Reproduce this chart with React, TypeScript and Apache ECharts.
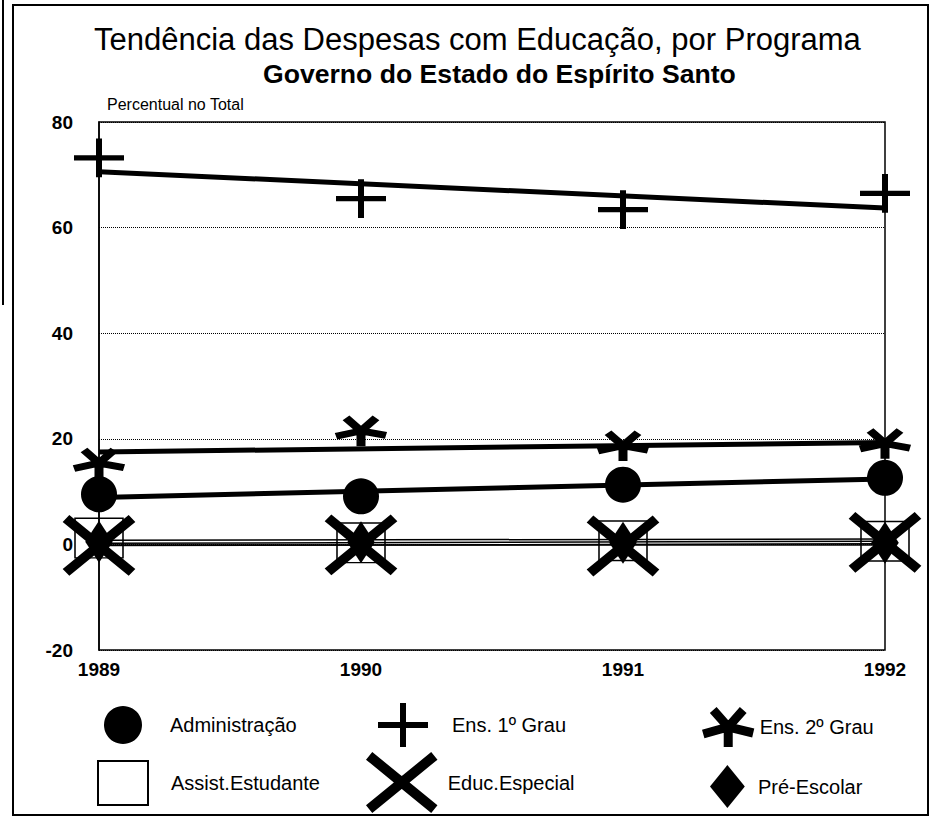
import React, { useEffect, useRef } from 'react';
import * as echarts from 'echarts';

const FONT = "'Liberation Sans', Arial, Helvetica, sans-serif";

// ---------- data ----------
const years = ['1989', '1990', '1991', '1992'];
const yMin = -20;
const yMax = 80;
const yStep = 20;

const administracao = [9.5, 9.1, 11.3, 12.6];
const ens1Grau = [73.2, 65.5, 63.4, 66.5];
const ens2Grau = [15.4, 21.5, 18.7, 19.1];
const assistEstudante = [1.2, 0.3, 0.7, 0.6];
const educEspecial = [-0.2, -0.1, -0.3, 0.4];
const preEscolar = [0.5, 0.4, 0.3, 0.3];

// trend lines: value at first and last year
const trendAdministracao = [8.9, 12.4];
const trendEns1Grau = [70.6, 63.7];
const trendEns2Grau = [17.5, 19.3];
const trendAssistEstudante = [0.8, 1.0];
const trendEducEspecial = [-0.2, 0.1];
const trendPreEscolar = [0.2, 0.6];

const names = {
  adm: 'Administração',
  e1: 'Ens. 1º Grau',
  e2: 'Ens. 2º Grau',
  ass: 'Assist.Estudante',
  edu: 'Educ.Especial',
  pre: 'Pré-Escolar',
};

// ---------- marker shapes ----------
function armShape(arms: number[][], t: number) {
  const h = t / 2;
  const polys = arms.map(([ex, ey]) => {
    const len = Math.hypot(ex, ey);
    const ux = ex / len;
    const uy = ey / len;
    const nx = -uy * h;
    const ny = ux * h;
    const sx = -ux * h;
    const sy = -uy * h;
    return [
      [sx + nx, sy + ny],
      [ex + nx, ey + ny],
      [ex - nx, ey - ny],
      [sx - nx, sy - ny],
    ];
  });
  const all = polys.flat();
  const xs = all.map((p) => p[0]);
  const ys = all.map((p) => p[1]);
  const minX = Math.min(...xs);
  const maxX = Math.max(...xs);
  const minY = Math.min(...ys);
  const maxY = Math.max(...ys);
  const f = (v: number) => v.toFixed(2);
  const d = polys
    .map((poly) => 'M' + poly.map((p) => f(p[0]) + ' ' + f(p[1])).join('L') + 'Z')
    .join('');
  return {
    symbol: 'path://' + d,
    size: [maxX - minX, maxY - minY],
    offset: [(minX + maxX) / 2, (minY + maxY) / 2],
  };
}

const PLUS = armShape([[0, -22], [0, 22], [-25, 0], [25, 0]], 6);
const ASTER = armShape([[-15, -17], [15, -17], [-25, 7], [25, 6], [0, 20]], 9);
const CROSS = armShape([[-33, -29.5], [33, -29.5], [-33, 29.5], [33, 29.5]], 10);
const CROSS_LEGEND = armShape([[-33, -27], [33, -27], [-33, 27], [33, 27]], 10);
const SQUARE = 'path://M0 0H50V44H0Z';
const DIAMOND = 'path://M17 0L34 21L17 42L0 21Z';

function pairs(vals: number[]) {
  return [
    [years[0], vals[0]],
    [years[years.length - 1], vals[1]],
  ];
}

function trend(name: string, vals: number[], width: number) {
  return {
    type: 'line',
    name: name + ' (tendência)',
    data: pairs(vals),
    symbol: 'none',
    z: 2,
    silent: true,
    lineStyle: { color: '#000', width, opacity: 1 },
    itemStyle: { color: '#000' },
  };
}

function markers(name: string, vals: number[], symbol: string, size: any, extra: any = {}) {
  return {
    type: 'scatter',
    name,
    data: vals,
    symbol,
    symbolSize: size,
    symbolKeepAspect: true,
    z: 3,
    silent: true,
    itemStyle: { color: '#000', opacity: 1 },
    ...extra,
  };
}

const legendBase = {
  orient: 'horizontal',
  padding: 0,
  itemGap: 0,
  selectedMode: false,
  symbolKeepAspect: true,
  textStyle: { fontSize: 20, color: '#000', fontFamily: FONT },
};

const option: any = {
  animation: false,
  backgroundColor: '#fff',
  title: [
    {
      text: 'Tendência das Despesas com Educação, por Programa',
      left: 94,
      top: 24,
      padding: 0,
      textStyle: { fontSize: 31, fontWeight: 'normal', color: '#000', fontFamily: FONT },
    },
    {
      text: 'Governo do Estado do Espírito Santo',
      left: 263,
      top: 60,
      padding: 0,
      textStyle: { fontSize: 26.6, fontWeight: 'bold', color: '#000', fontFamily: FONT },
    },
  ],
  grid: {
    left: 99,
    top: 122,
    width: 786,
    height: 528,
    show: true,
    borderColor: '#000',
    borderWidth: 1.5,
    backgroundColor: 'transparent',
  },
  xAxis: {
    type: 'category',
    data: years,
    boundaryGap: false,
    axisLine: { lineStyle: { color: '#000', width: 1.5 } },
    axisTick: { show: true, inside: true, length: 7, lineStyle: { color: '#000', width: 1.5 } },
    axisLabel: { fontSize: 19, fontWeight: 'bold', color: '#000', fontFamily: FONT, margin: 10 },
    splitLine: { show: false },
  },
  yAxis: {
    type: 'value',
    min: yMin,
    max: yMax,
    interval: yStep,
    name: 'Percentual no Total',
    nameLocation: 'end',
    nameGap: 10,
    nameTextStyle: { fontSize: 16, color: '#000', fontFamily: FONT, align: 'left', padding: [0, 0, 0, 8] },
    axisLine: { show: true, lineStyle: { color: '#000', width: 1.5 } },
    axisTick: { show: false },
    axisLabel: { fontSize: 19, fontWeight: 'bold', color: '#000', fontFamily: FONT, margin: 26 },
    splitLine: { show: true, lineStyle: { color: '#000', width: 1, type: 'dotted' } },
  },
  legend: [
    { ...legendBase, data: [{ name: names.adm, icon: 'circle' }], left: 104, top: 706, itemWidth: 84, itemHeight: 38 },
    { ...legendBase, data: [{ name: names.e1, icon: PLUS.symbol }], left: 378, top: 703, itemWidth: 88, itemHeight: 44 },
    { ...legendBase, data: [{ name: names.e2, icon: ASTER.symbol }], left: 702, top: 707, itemWidth: 53, itemHeight: 40 },
    { ...legendBase, data: [{ name: names.ass, icon: SQUARE }], left: 97, top: 760, itemWidth: 86, itemHeight: 44 },
    { ...legendBase, data: [{ name: names.edu, icon: CROSS_LEGEND.symbol }], left: 366, top: 752, itemWidth: 82, itemHeight: 61 },
    { ...legendBase, data: [{ name: names.pre, icon: DIAMOND }], left: 710, top: 765, itemWidth: 51, itemHeight: 43 },
  ],
  graphic: [
    {
      type: 'rect',
      silent: true,
      shape: { x: 13, y: 5, width: 915, height: 810 },
      style: { fill: 'none', stroke: '#000', lineWidth: 2 },
    },
    {
      type: 'line',
      silent: true,
      shape: { x1: 3, y1: 0, x2: 3, y2: 305 },
      style: { stroke: '#000', lineWidth: 2 },
    },
  ],
  series: [
    trend(names.ass, trendAssistEstudante, 1.5),
    trend(names.edu, trendEducEspecial, 1.5),
    trend(names.pre, trendPreEscolar, 1.5),
    trend(names.adm, trendAdministracao, 5),
    trend(names.e2, trendEns2Grau, 5),
    trend(names.e1, trendEns1Grau, 5),
    markers(names.ass, assistEstudante, SQUARE, [48, 45], {
      itemStyle: { color: 'rgba(0,0,0,0)', borderColor: '#000', borderWidth: 1.5, opacity: 1 },
    }),
    markers(names.pre, preEscolar, DIAMOND, [34, 42]),
    markers(names.edu, educEspecial, CROSS.symbol, CROSS.size, { symbolOffset: CROSS.offset }),
    markers(names.adm, administracao, 'circle', 36),
    markers(names.e2, ens2Grau, ASTER.symbol, ASTER.size, { symbolOffset: ASTER.offset }),
    markers(names.e1, ens1Grau, PLUS.symbol, PLUS.size, { symbolOffset: PLUS.offset }),
  ],
};

export default function App() {
  const ref = useRef<HTMLDivElement>(null);
  useEffect(() => {
    if (!ref.current) return;
    const chart = echarts.init(ref.current, undefined, { renderer: 'svg' });
    chart.setOption(option);
    return () => chart.dispose();
  }, []);
  return (
    <div
      ref={ref}
      style={{ position: 'absolute', left: 0, top: 0, width: 932, height: 822, background: '#fff' }}
    />
  );
}
